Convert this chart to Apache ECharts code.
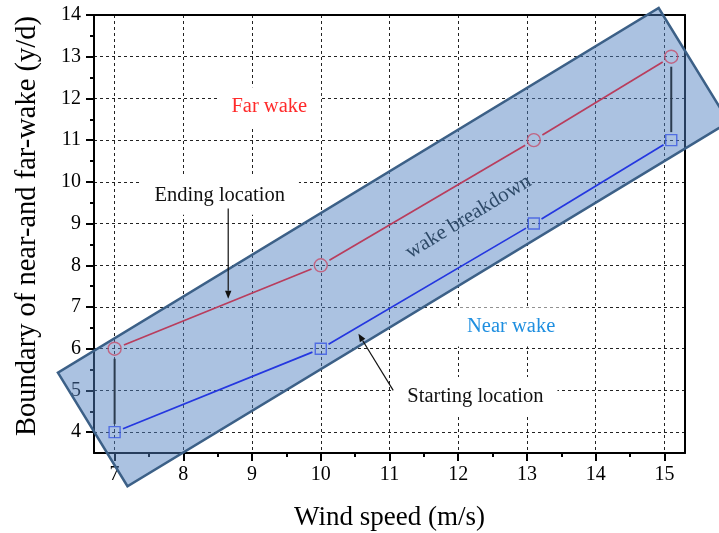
<!DOCTYPE html>
<html>
<head>
<meta charset="utf-8">
<script src="https://cdn.jsdelivr.net/npm/echarts@6/dist/echarts.min.js"></script>
<style>
  html, body { margin: 0; padding: 0; background: #fff; }
  #chart { width: 719px; height: 533px; }
</style>
</head>
<body>
<div id="chart"></div>
<script>
// Wind speed (m/s) and the wake boundaries (y/d)
const windSpeed = [7, 10, 13.1, 15.1];
const farWakeEnd = [6, 8, 11, 13];      // ending location of the breakdown zone
const nearWakeStart = [4, 6, 9, 11];    // starting location of the breakdown zone

// Axis ticks
const xTickValues = [7, 8, 9, 10, 11, 12, 13, 14, 15];
const xMinorValues = [7.5, 8.5, 9.5, 10.5, 11.5, 12.5, 13.5, 14.5];
const yTickValues = [4, 5, 6, 7, 8, 9, 10, 11, 12, 13, 14];
const yMinorValues = [4.5, 5.5, 6.5, 7.5, 8.5, 9.5, 10.5, 11.5, 12.5, 13.5];

// Corners of the shaded "wake breakdown" band, in (wind speed, y/d)
const bandCorners = [[6.175, 5.425], [7.187, 2.704], [15.938, 11.432], [14.917, 14.168]];

// Text notes placed in data coordinates
const noteTexts = ['Far wake', 'Ending location', 'Near wake', 'Starting location'];
const notePos = [[9.25, 11.8], [8.53, 9.68], [12.77, 6.52], [12.25, 4.857]];
const noteColors = ['#ff2a2a', '#111', '#1f8fe0', '#111'];
const bandLabelPos = [12.15, 9.16];

// Arrows: [fromX, fromY, toX, toY]
const arrows = [[8.653, 9.36, 8.653, 7.2], [11.054, 5.0, 10.548, 6.36]];

const SERIF = '"Liberation Serif", "Times New Roman", serif';
const chart = echarts.init(document.getElementById('chart'));

function shorten(p0, p1, g0, g1) {
  const dx = p1[0] - p0[0], dy = p1[1] - p0[1];
  const len = Math.hypot(dx, dy);
  const ux = dx / len, uy = dy / len;
  return [[p0[0] + ux * g0, p0[1] + uy * g0], [p1[0] - ux * g1, p1[1] - uy * g1]];
}

// Origin-style line: segments stop short of the hollow markers
function gappedLine(name, ys, color, gap) {
  return {
    type: 'custom', name, z: 3, clip: false, silent: true,
    data: windSpeed.slice(0, -1).map((x, i) => [x, ys[i], windSpeed[i + 1], ys[i + 1]]),
    encode: { x: [0, 2], y: [1, 3] },
    renderItem(params, api) {
      const a = api.coord([api.value(0), api.value(1)]);
      const b = api.coord([api.value(2), api.value(3)]);
      const [p, q] = shorten(a, b, gap, gap);
      return { type: 'line', shape: { x1: p[0], y1: p[1], x2: q[0], y2: q[1] },
               style: { stroke: color, lineWidth: 1.7 } };
    }
  };
}

const lastIdx = windSpeed.length - 1;
const connectors = [0, lastIdx].map(i => [windSpeed[i], farWakeEnd[i], nearWakeStart[i]]);

const hiddenAxis = { axisLine: { show: false }, axisLabel: { show: false }, splitLine: { show: false } };

const option = {
  animation: false,
  grid: { left: 94, right: 34, top: 15, bottom: 80, containLabel: false, outerBoundsMode: 'none' },
  xAxis: [
    {
      type: 'value', min: 6.7, max: 15.3, position: 'bottom',
      axisLine: { show: true, onZero: false, lineStyle: { color: '#000', width: 2 } },
      axisTick: { show: true, inside: false, length: 8, customValues: xTickValues, lineStyle: { color: '#000', width: 2 } },
      axisLabel: { customValues: xTickValues, fontSize: 20, fontFamily: SERIF, color: '#000', margin: 12 },
      splitLine: { show: true, lineStyle: { color: '#222', type: [3, 3], width: 1 } },
      name: 'Wind speed (m/s)', nameLocation: 'middle', nameGap: 51,
      nameTextStyle: { fontSize: 27, fontFamily: SERIF, color: '#000' }
    },
    Object.assign({ type: 'value', min: 6.7, max: 15.3, position: 'bottom',
      axisTick: { show: true, length: 4, customValues: xMinorValues, lineStyle: { color: '#000', width: 2 } } }, hiddenAxis),
    { type: 'value', min: 6.7, max: 15.3, position: 'top',
      axisLine: { show: true, onZero: false, lineStyle: { color: '#000', width: 2 } },
      axisTick: { show: false }, axisLabel: { show: false }, splitLine: { show: false } }
  ],
  yAxis: [
    {
      type: 'value', min: 3.5, max: 14, position: 'left',
      axisLine: { show: true, onZero: false, lineStyle: { color: '#000', width: 2 } },
      axisTick: { show: true, inside: false, length: 8, customValues: yTickValues, lineStyle: { color: '#000', width: 2 } },
      axisLabel: { customValues: yTickValues, fontSize: 20, fontFamily: SERIF, color: '#000', margin: 13 },
      splitLine: { show: true, lineStyle: { color: '#222', type: [3, 3], width: 1 } },
      name: 'Boundary of near-and far-wake (y/d)', nameLocation: 'middle', nameGap: 52, nameRotate: 90,
      nameTextStyle: { fontSize: 28.5, fontFamily: SERIF, color: '#000', padding: [0, 0, 0, 16] }
    },
    Object.assign({ type: 'value', min: 3.5, max: 14, position: 'left',
      axisTick: { show: true, length: 4, customValues: yMinorValues, lineStyle: { color: '#000', width: 2 } } }, hiddenAxis),
    { type: 'value', min: 3.5, max: 14, position: 'right',
      axisLine: { show: true, onZero: false, lineStyle: { color: '#000', width: 2 } },
      axisTick: { show: false }, axisLabel: { show: false }, splitLine: { show: false } }
  ],
  series: [
    // note labels with white boxes over the grid
    {
      type: 'custom', name: 'notes', z: 1, clip: false, silent: true,
      data: notePos,
      renderItem(params, api) {
        const p = api.coord([api.value(0), api.value(1)]);
        const i = params.dataIndex;
        return { type: 'text', x: p[0], y: p[1],
          style: { text: noteTexts[i], fill: noteColors[i], font: '20.5px ' + SERIF,
                   align: 'center', verticalAlign: 'middle', backgroundColor: '#fff', padding: [9, 14] } };
      }
    },
    // shaded band
    {
      type: 'custom', name: 'wake breakdown', z: 2, clip: false, silent: true,
      data: [bandCorners.flat()],
      renderItem(params, api) {
        const pts = bandCorners.map((c, k) => api.coord([api.value(2 * k), api.value(2 * k + 1)]));
        return { type: 'polygon', shape: { points: pts },
          style: { fill: 'rgba(80,128,192,0.48)', stroke: '#3c6087', lineWidth: 2.5 } };
      }
    },
    gappedLine('Ending location', farWakeEnd, '#b93d5d', 10),
    gappedLine('Starting location', nearWakeStart, '#2437e0', 9),
    // vertical connectors between the two boundaries
    {
      type: 'custom', name: 'connectors', z: 3, clip: false, silent: true,
      data: connectors,
      renderItem(params, api) {
        const a = api.coord([api.value(0), api.value(1)]);
        const b = api.coord([api.value(0), api.value(2)]);
        const [p, q] = shorten(a, b, 10, 8);
        return { type: 'line', shape: { x1: p[0], y1: p[1], x2: q[0], y2: q[1] },
                 style: { stroke: '#2b3b4e', lineWidth: 2 } };
      }
    },
    {
      type: 'scatter', name: 'far', z: 4, symbol: 'circle', symbolSize: 13,
      data: windSpeed.map((x, i) => [x, farWakeEnd[i]]),
      itemStyle: { color: 'rgba(0,0,0,0)', borderColor: '#c64d6c', borderWidth: 1.4 }
    },
    {
      type: 'scatter', name: 'near', z: 4, symbol: 'rect', symbolSize: 11,
      data: windSpeed.map((x, i) => [x, nearWakeStart[i]]),
      itemStyle: { color: 'rgba(0,0,0,0)', borderColor: '#3a58e2', borderWidth: 1.4 }
    },
    // arrows
    {
      type: 'custom', name: 'arrows', z: 5, clip: false, silent: true,
      data: arrows,
      renderItem(params, api) {
        const a = api.coord([api.value(0), api.value(1)]);
        const b = api.coord([api.value(2), api.value(3)]);
        const dx = b[0] - a[0], dy = b[1] - a[1];
        const len = Math.hypot(dx, dy), ux = dx / len, uy = dy / len;
        const hl = 8, hw = 3.2;
        const base = [b[0] - ux * hl, b[1] - uy * hl];
        return { type: 'group', children: [
          { type: 'line', shape: { x1: a[0], y1: a[1], x2: base[0], y2: base[1] }, style: { stroke: '#111', lineWidth: 1.2 } },
          { type: 'polygon', shape: { points: [b, [base[0] - uy * hw, base[1] + ux * hw], [base[0] + uy * hw, base[1] - ux * hw]] },
            style: { fill: '#111' } }
        ] };
      }
    },
    // rotated band label, aligned with the band's long side
    {
      type: 'custom', name: 'band label', z: 6, clip: false, silent: true,
      data: [bandLabelPos],
      renderItem(params, api) {
        const p = api.coord([api.value(0), api.value(1)]);
        const a = api.coord(bandCorners[0]);
        const b = api.coord(bandCorners[3]);
        const rot = Math.atan2(a[1] - b[1], b[0] - a[0]);
        return { type: 'text', x: p[0], y: p[1], rotation: rot,
          style: { text: 'wake breakdown', fill: '#2e4a68', font: '21px ' + SERIF, align: 'center', verticalAlign: 'middle' } };
      }
    }
  ]
};

chart.setOption(option);
</script>
</body>
</html>
